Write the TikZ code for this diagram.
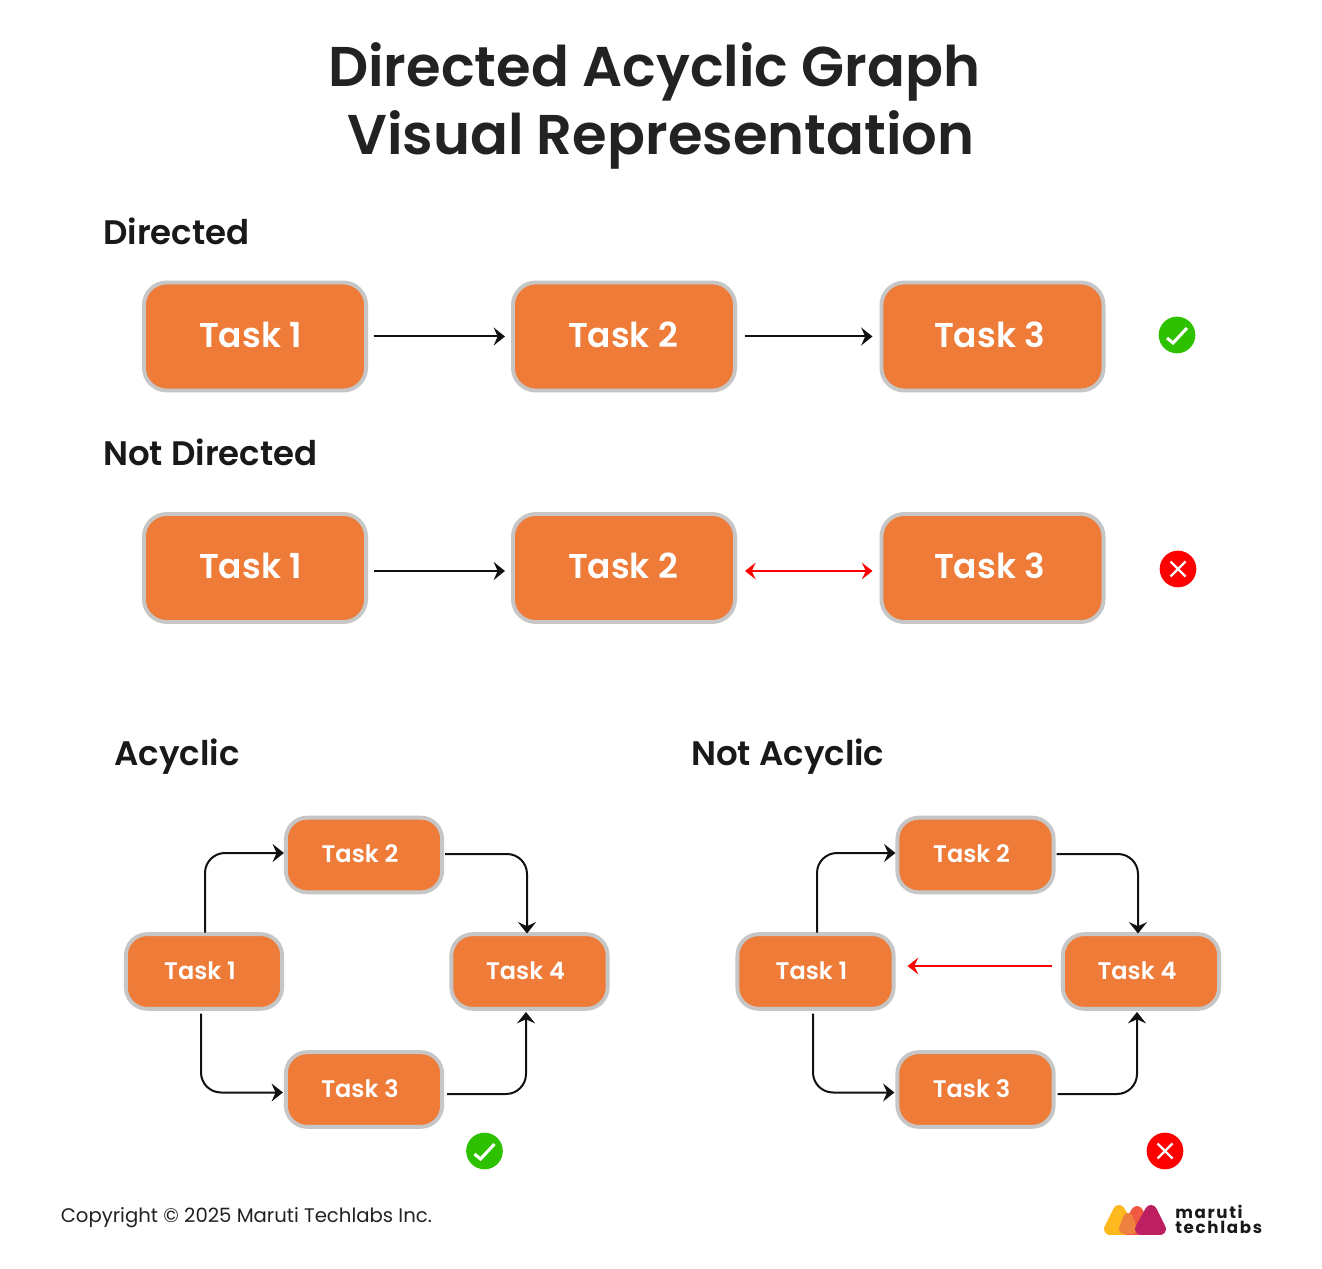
\documentclass[tikz,border=0pt]{standalone}
\usepackage{fontspec}
\setmainfont{Poppins}
\newfontfamily\psemi{Poppins SemiBold}
\newfontfamily\pbold[LetterSpace=10]{Poppins}[UprightFont=*-Bold]
\usetikzlibrary{arrows.meta,calc}
\definecolor{boxfill}{HTML}{EE7B38}
\definecolor{boxline}{HTML}{C6C6C6}
\definecolor{ink}{HTML}{222222}
\definecolor{wire}{HTML}{111111}
\definecolor{okgreen}{HTML}{2DC100}
\definecolor{badred}{HTML}{FE0000}
\definecolor{logoyellow}{HTML}{FDB91E}
\definecolor{logored}{HTML}{F15A40}
\definecolor{logoorange}{HTML}{EE8040}
\definecolor{logomagenta}{HTML}{BC2060}
\tikzset{
  x=0.75pt,y=-0.75pt,
  bigbox/.style={draw=boxline,fill=boxfill,line width=2.9pt,rounded corners=17pt,minimum width=166.6pt,minimum height=81pt,inner sep=0pt,text=white,text height=16.5pt,text depth=0pt,font=\psemi\fontsize{25.8}{25.8}\selectfont},
  smallbox/.style={draw=boxline,fill=boxfill,line width=2.9pt,rounded corners=16pt,minimum width=117.2pt,minimum height=56pt,inner sep=0pt,text=white,text height=11.6pt,text depth=0pt,font=\psemi\fontsize{18}{18}\selectfont},
  conn/.style={line width=1.5pt,draw=wire,rounded corners=15pt,-{Stealth[length=8.5pt,width=13.5pt,inset=3pt]}},
  redconn/.style={line width=1.3pt,draw=badred,-{Stealth[length=8pt,width=12.5pt,inset=3pt]}},
  title/.style={anchor=base,text=ink,font=\psemi\fontsize{42}{42}\selectfont},
  section/.style={anchor=base west,inner sep=0pt,text=black!90,font=\psemi\fontsize{25.5}{25.5}\selectfont},
  okdot/.style={circle,fill=okgreen,minimum size=27.5pt,inner sep=0pt},
  baddot/.style={circle,fill=badred,minimum size=27.5pt,inner sep=0pt},
  mark line/.style={draw=white,line width=2.3pt},
  cross line/.style={draw=white,line width=1.8pt},
  logoshape/.style={fill=#1,draw=#1,line join=round,line width=9pt},
  logotext/.style={anchor=base west,inner sep=0pt,text=black!90,font=\pbold\fontsize{12.5}{12.5}\selectfont},
}
\newcommand{\okmark}[1]{\draw[mark line] ($(#1)+(-10,3)$) -- ($(#1)+(-4,8)$) -- ($(#1)+(10,-7)$);}
\newcommand{\badmark}[1]{\draw[cross line] ($(#1)+(-7.5,-7.5)$) -- ($(#1)+(7.5,7.5)$) ($(#1)+(-7.5,7.5)$) -- ($(#1)+(7.5,-7.5)$);}
\newcommand{\lbl}[2]{#1\kern#2pt}
\begin{document}
\begin{tikzpicture}
\useasboundingbox[fill=white] (0,0) rectangle (1322,1269);
\node[title] (t1) at (654.3,86.5) {Directed Acyclic Graph};
\node[title] (t2) at (660.8,154.5) {Visual Representation};
\node[section] (s1) at (103,245) {Directed};
\node[section] (s2) at (103,466) {Not Directed};
\node[section] (s3) at (114,765) {Acyclic};
\node[section] (s4) at (691,765) {Not Acyclic};
% row 1
\node[bigbox] (a1) at (255,336.5) {\lbl{Task 1}{6.8}};
\node[bigbox] (a2) at (624,336.5) {\lbl{Task 2}{1.5}};
\node[bigbox] (a3) at (992.5,336.5) {\lbl{Task 3}{4.5}};
\draw[conn] ($(a1.east)+(5.5,0)$) -- ($(a2.west)+(-6,0)$);
\draw[conn] ($(a2.east)+(7.5,0)$) -- ($(a3.west)+(-7,0)$);
\node[okdot] (ok1) at (1177,335) {}; \okmark{ok1}
% row 2
\node[bigbox] (b1) at (255,568) {\lbl{Task 1}{6.8}};
\node[bigbox] (b2) at (624,568) {\lbl{Task 2}{1.5}};
\node[bigbox] (b3) at (992.5,568) {\lbl{Task 3}{4.5}};
\draw[conn] ($(b1.east)+(5.5,3)$) -- ($(b2.west)+(-6,3)$);
\draw[redconn,{Stealth[length=8pt,width=12.5pt,inset=3pt]}-{Stealth[length=8pt,width=12.5pt,inset=3pt]}] ($(b2.east)+(8,3)$) -- ($(b3.west)+(-7,3)$);
\node[baddot] (bad1) at (1178,569) {}; \badmark{bad1}
% acyclic
\node[smallbox] (c1) at (204,971.5) {\lbl{Task 1}{6}};
\node[smallbox] (c2) at (364,855) {\lbl{Task 2}{6}};
\node[smallbox] (c3) at (364,1089.5) {\lbl{Task 3}{6}};
\node[smallbox] (c4) at (529.5,971.5) {\lbl{Task 4}{6}};
\draw[conn] ($(c1)+(1,-39)$) |- ($(c2.west)+(0,-2)$);
\draw[conn] ($(c2.east)+(1,-1)$) -| ($(c4)+(-2.5,-38)$);
\draw[conn] ($(c1)+(-3,42)$) |- ($(c3.west)+(-1,3)$);
\draw[conn] ($(c3.east)+(3,4.5)$) -| ($(c4)+(-3.5,40.5)$);
\node[okdot] (ok2) at (484.5,1151) {}; \okmark{ok2}
% not acyclic
\node[smallbox] (d1) at (815.5,971.5) {\lbl{Task 1}{6}};
\node[smallbox] (d2) at (975.5,855) {\lbl{Task 2}{6}};
\node[smallbox] (d3) at (975.5,1089.5) {\lbl{Task 3}{6}};
\node[smallbox] (d4) at (1141,971.5) {\lbl{Task 4}{6}};
\draw[conn] ($(d1)+(1.5,-39)$) |- ($(d2.west)+(0,-2)$);
\draw[conn] ($(d2.east)+(1,-1)$) -| ($(d4)+(-3,-38)$);
\draw[conn] ($(d1)+(-2.5,42)$) |- ($(d3.west)+(-1,3)$);
\draw[conn] ($(d3.east)+(2,4.5)$) -| ($(d4)+(-4,40.5)$);
\draw[redconn] ($(d4.west)+(-9,-5.5)$) -- ($(d1.east)+(12,-5.5)$);
\node[baddot] (bad2) at (1165,1151) {}; \badmark{bad2}
% footer
\node[anchor=base west,inner sep=0pt,text=ink,font=\fontsize{14.75}{14.75}\selectfont] (copy) at (60.5,1222) {Copyright © 2025 Maruti Techlabs Inc.};
% logo
\begin{scope}
\clip (1095,1195) rectangle (1175,1234);
\path[logoshape=logoyellow] (1119,1211) -- (1110,1229) -- (1129,1229) -- cycle;
\path[logoshape=logored] (1137,1212) -- (1128,1229) -- (1146,1229) -- cycle;
\path[logoshape=logoorange,line width=7.5pt] (1128,1218) -- (1124,1229) -- (1132,1229) -- cycle;
\path[logoshape=logomagenta] (1151,1211) -- (1141,1229) -- (1160,1229) -- cycle;
\end{scope}
\node[logotext] (m1) at (1175,1218) {maruti};
\node[logotext] (m2) at (1175,1233) {techlabs};
\end{tikzpicture}
\end{document}
